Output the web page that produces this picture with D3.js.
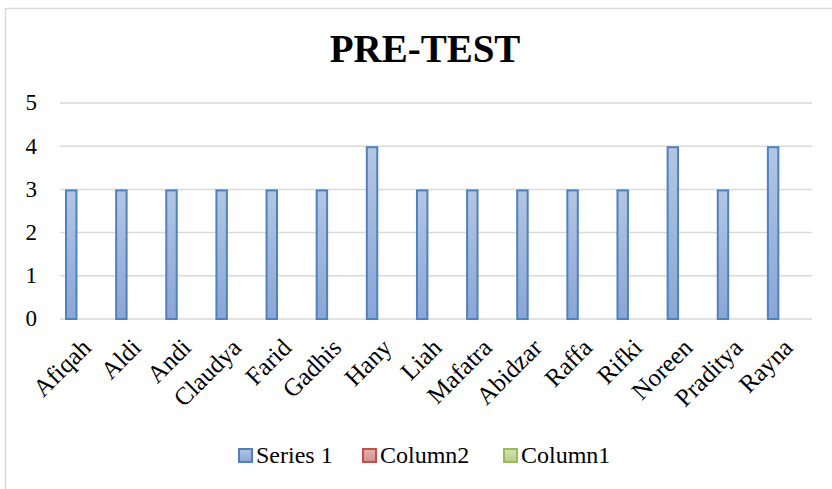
<!DOCTYPE html>
<html>
<head>
<meta charset="utf-8">
<script src="https://cdn.jsdelivr.net/npm/d3@7"></script>
<style>
  html, body { margin: 0; padding: 0; background: #fff; }
  svg { display: block; }
  svg text { font-family: "Liberation Serif", "DejaVu Serif", serif; }
</style>
</head>
<body>
<svg id="chart"></svg>
<script>
const names = ["Afiqah", "Aldi", "Andi", "Claudya", "Farid", "Gadhis", "Hany", "Liah",
               "Mafatra", "Abidzar", "Raffa", "Rifki", "Noreen", "Praditya", "Rayna"];
const series1 = [3, 3, 3, 3, 3, 3, 4, 3, 3, 3, 3, 3, 4, 3, 4];
const column2 = names.map(() => null);
const column1 = names.map(() => null);
const seriesNames = ["Series 1", "Column2", "Column1"];
const yTicks = [0, 1, 2, 3, 4, 5];

const width = 832;
const height = 489;
const plot = { left: 60, right: 812, top: 103, bottom: 319 };
const serif = "'Liberation Serif', 'DejaVu Serif', serif";

const colors = {
    "Series 1": { stroke: "#4f81bd", top: "#b3c6e3", bottom: "#8aa6d6" },
    "Column2": { stroke: "#c0504d", top: "#e6b3b2", bottom: "#d38d8b" },
    "Column1": { stroke: "#9bbb59", top: "#d4e3b5", bottom: "#b7cf86" }
};

const svg = d3.select("#chart")
    .attr("width", width)
    .attr("height", height);

// gradients
const defs = svg.append("defs");
seriesNames.forEach((s, i) => {
    const grad = defs.append("linearGradient")
        .attr("id", "grad" + i)
        .attr("x1", 0).attr("y1", 0).attr("x2", 0).attr("y2", 1);
    grad.append("stop").attr("offset", "0%").attr("stop-color", colors[s].top);
    grad.append("stop").attr("offset", "100%").attr("stop-color", colors[s].bottom);
});

// chart border (runs off the right and bottom edges like the reference)
svg.append("path")
    .attr("d", `M5.5,${height} V8.5 H${width}`)
    .attr("fill", "none")
    .attr("stroke", "#d9d9d9")
    .attr("stroke-width", 1.5);

// title
svg.append("text")
    .attr("x", 425)
    .attr("y", 62)
    .attr("text-anchor", "middle")
    .attr("font-family", serif)
    .attr("font-weight", "bold")
    .attr("font-size", 39)
    .attr("fill", "#000")
    .text("PRE-TEST");

const data = names.map((n, i) => ({
    name: n,
    values: [series1[i], column2[i], column1[i]]
}));

const x = d3.scaleBand()
    .domain(names)
    .range([plot.left, plot.right]);

const xs = d3.scaleBand()
    .domain(seriesNames)
    .range([x.bandwidth() * 0.1, x.bandwidth() * 0.9])
    .paddingInner(0.1);

const y = d3.scaleLinear()
    .domain([0, 5])
    .range([plot.bottom, plot.top]);

// GRIDLINES
svg.append("g")
    .selectAll("line")
    .data(yTicks)
    .enter().append("line")
    .attr("x1", plot.left)
    .attr("x2", plot.right)
    .attr("y1", d => y(d))
    .attr("y2", d => y(d))
    .attr("stroke", "#d9d9d9")
    .attr("stroke-width", 1.5);

// Y AXIS LABELS
svg.append("g")
    .selectAll("text")
    .data(yTicks)
    .enter().append("text")
    .attr("x", plot.left - 23)
    .attr("y", d => y(d))
    .attr("dy", "0.32em")
    .attr("text-anchor", "end")
    .attr("font-family", serif)
    .attr("font-size", 23)
    .attr("fill", "#000")
    .text(d3.format("d"));

// BARS
const groups = svg.selectAll(".group")
    .data(data)
    .enter().append("g")
    .attr("class", "group")
    .attr("transform", d => `translate(${x(d.name)},0)`);

groups.selectAll("rect")
    .data(d => d.values.map((v, i) => ({ key: seriesNames[i], value: v, i: i })).filter(e => e.value != null))
    .enter().append("rect")
    .attr("x", d => xs(d.key) + 1)
    .attr("y", d => y(d.value) + 1)
    .attr("width", xs.bandwidth() - 2)
    .attr("height", d => y(0) - y(d.value) - 1)
    .attr("fill", d => `url(#grad${d.i})`)
    .attr("stroke", d => colors[d.key].stroke)
    .attr("stroke-width", 2);

// X LABELS
const labelY = plot.bottom + 24;
svg.append("g")
    .selectAll("text")
    .data(names)
    .enter().append("text")
    .attr("x", d => x(d) + x.bandwidth() / 2 + 1)
    .attr("y", labelY)
    .attr("transform", d => `rotate(-45,${x(d) + x.bandwidth() / 2 + 1},${labelY})`)
    .attr("text-anchor", "end")
    .attr("dy", "0.35em")
    .attr("font-family", serif)
    .attr("font-size", 25)
    .attr("fill", "#000")
    .text(d => d);

// LEGEND
const legendX = [238, 362, 503];
const legend = svg.append("g")
    .selectAll("g")
    .data(seriesNames)
    .enter().append("g")
    .attr("transform", (d, i) => `translate(${legendX[i]},448)`);

legend.append("rect")
    .attr("x", 1).attr("y", 1)
    .attr("width", 13).attr("height", 13)
    .attr("fill", (d, i) => `url(#grad${i})`)
    .attr("stroke", d => colors[d].stroke)
    .attr("stroke-width", 2);

legend.append("text")
    .attr("x", 18)
    .attr("y", 15)
    .attr("font-family", serif)
    .attr("font-size", 24)
    .attr("fill", "#000")
    .text(d => d);
</script>
</body>
</html>
